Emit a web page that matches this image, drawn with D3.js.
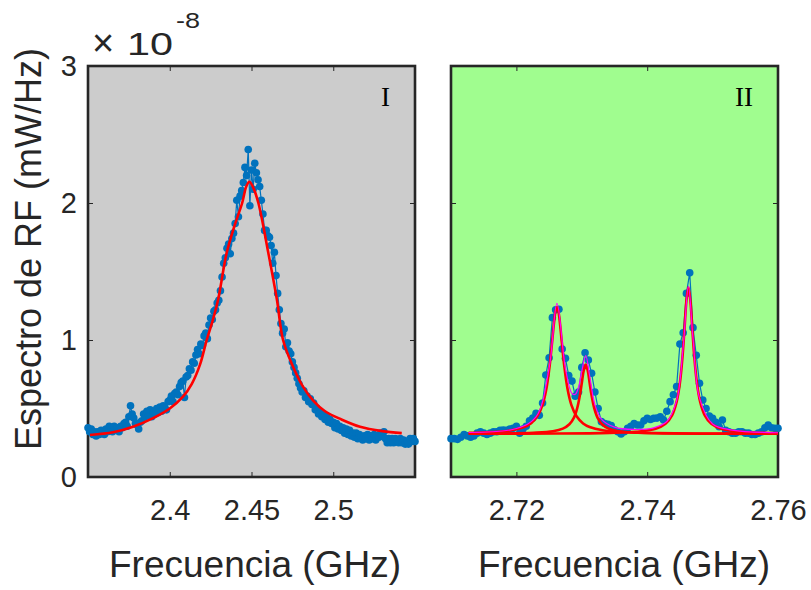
<!DOCTYPE html>
<html><head><meta charset="utf-8">
<script src="https://cdn.jsdelivr.net/npm/d3@7"></script>
<style>body{margin:0;background:#fff}svg{display:block}</style>
</head><body>
<script>
// ---------- DATA ----------
// Panel I: measured spectrum (uniform frequency grid, GHz)
const freqStartI = 2.35, freqStepI = 0.001;
const specI = [
0.36,0.33,0.35,0.31,0.33,0.30,0.33,0.31,0.34,0.32,0.31,0.35,0.33,0.37,0.34,0.33,0.37,0.35,0.36,0.33,0.37,
0.36,0.39,0.40,0.37,0.44,0.52,0.46,0.43,0.39,0.38,0.35,0.40,0.41,0.46,0.44,0.48,0.45,0.49,0.44,0.47,
0.46,0.50,0.47,0.51,0.48,0.52,0.50,0.49,0.55,0.56,0.59,0.55,0.61,0.62,0.60,0.66,0.69,0.70,0.58,0.73,
0.74,0.79,0.78,0.84,0.83,0.89,0.93,0.90,0.97,0.96,1.03,1.05,1.01,1.11,1.16,1.15,1.21,1.22,1.27,1.29,
1.36,1.46,1.56,1.60,1.67,1.70,1.63,1.74,1.78,1.85,2.02,1.90,2.05,2.09,2.15,2.26,2.20,2.39,
1.98,2.24,2.10,2.29,2.22,2.17,2.12,2.02,1.92,1.80,1.80,1.76,1.75,1.69,1.56,1.64,1.47,
1.34,1.22,1.12,1.05,1.08,0.95,0.98,0.92,0.90,0.84,0.80,0.76,0.72,0.68,0.65,
0.62,0.63,0.58,0.59,0.55,0.57,0.53,0.54,0.49,0.50,0.46,0.47,0.44,0.46,0.42,0.44,0.40,0.42,0.39,0.40,
0.36,0.39,0.35,0.37,0.34,0.36,0.32,0.35,0.31,0.34,0.30,0.32,0.29,0.32,0.28,0.31,0.29,0.27,0.30,0.28,
0.31,0.27,0.30,0.28,0.31,0.27,0.30,0.29,0.32,0.30,0.33,0.28,0.25,0.28,0.25,0.28,0.25,0.28,0.26,0.25,
0.28,0.25,0.27,0.24,0.26,0.24,0.28,0.26,0.28,0.26
];
// Panel I: fitted curve
const fitFreqI = [2.3512,2.3653,2.3775,2.3898,2.400,2.4081,2.4135,2.4185,2.4226,2.4262,2.4295,2.4348,2.4395,2.4443,2.4468,2.4487,2.4508,2.4542,2.4603,2.4656,2.4693,2.4754,2.4815,2.4876,2.4950,2.5050,2.5164,2.5300,2.5419];
const fitI = [0.307,0.326,0.367,0.43,0.50,0.586,0.68,0.82,1.0,1.14,1.29,1.635,1.83,2.0,2.12,2.155,2.12,2.0,1.635,1.29,1.0,0.805,0.66,0.56,0.48,0.42,0.367,0.335,0.32];

// Panel II: measured spectrum
const freqStartII = 2.71, freqStepII = 0.0005;
const specII = [
0.28,0.28,0.275,0.29,0.31,0.30,0.29,0.30,0.32,0.33,
0.32,0.31,0.32,0.33,0.33,0.34,0.343,0.34,0.35,0.355,
0.37,0.32,0.35,0.37,0.41,0.43,0.465,0.45,0.54,0.745,
0.87,1.163,1.22,1.224,0.934,0.866,0.74,0.70,0.59,0.62,
0.80,0.907,0.854,0.757,0.62,0.50,0.404,0.39,0.385,0.375,
0.345,0.33,0.314,0.33,0.355,0.37,0.39,0.38,0.38,0.41,
0.428,0.42,0.428,0.43,0.44,0.416,0.48,0.55,0.60,0.66,
0.97,1.053,1.34,1.49,1.09,0.888,0.684,0.562,0.50,0.445,
0.428,0.40,0.367,0.416,0.34,0.33,0.32,0.32,0.33,0.33,
0.32,0.32,0.31,0.31,0.32,0.33,0.36,0.38,0.36,0.355,
0.355
];
// Panel II: individual peak fits
const fitFreqP1 = [2.7127,2.7162,2.7192,2.7212,2.7222,2.7232,2.724,2.7246,2.7251,2.7255,2.7258,2.726,2.7262,2.7264,2.7266,2.7269,2.7273,2.7278,2.7284,2.7292,2.7302,2.7312,2.7332,2.7362,2.7412,2.7512,2.76];
const fitP1 = [0.322,0.328,0.341,0.365,0.391,0.443,0.527,0.648,0.818,1.005,1.148,1.215,1.24,1.215,1.148,1.005,0.818,0.648,0.527,0.443,0.391,0.365,0.341,0.328,0.321,0.317,0.316];
const fitFreqP2 = [2.7127,2.7186,2.7226,2.7256,2.7271,2.7281,2.7288,2.7293,2.7297,2.73,2.7303,2.7306,2.7309,2.7312,2.7315,2.7319,2.7324,2.7331,2.7341,2.7356,2.7386,2.7426,2.7506,2.76];
const fitP2 = [0.317,0.318,0.323,0.334,0.353,0.385,0.434,0.503,0.594,0.686,0.778,0.82,0.778,0.686,0.594,0.503,0.434,0.385,0.353,0.334,0.323,0.318,0.316,0.316];
const fitFreqP3 = [2.7127,2.7263,2.7343,2.7383,2.7413,2.7428,2.7438,2.7445,2.745,2.7454,2.7457,2.746,2.7463,2.7466,2.7469,2.7472,2.7476,2.7481,2.7488,2.7498,2.7513,2.7543,2.76];
const fitP3 = [0.316,0.317,0.322,0.330,0.352,0.388,0.450,0.548,0.687,0.879,1.08,1.288,1.385,1.288,1.08,0.879,0.687,0.548,0.450,0.388,0.352,0.330,0.320];
// Panel II: total fit
const fitFreqSum = [2.7127,2.72,2.723,2.725,2.7262,2.7275,2.7285,2.729,2.7295,2.73,2.7306,2.7312,2.732,2.733,2.735,2.738,2.741,2.743,2.7445,2.7455,2.7463,2.747,2.748,2.75,2.753,2.76];
const fitSum = [0.325,0.354,0.439,0.795,1.267,0.791,0.609,0.604,0.655,0.773,0.887,0.739,0.528,0.423,0.364,0.347,0.359,0.405,0.558,0.95,1.391,1.014,0.576,0.387,0.342,0.323];

const ticksI = [2.4, 2.45, 2.5];
const ticksII = [2.72, 2.74, 2.76];
const ticksY = [0, 1, 2, 3];
const xLabel = "Frecuencia (GHz)";
const yLabel = "Espectro de RF (mW/Hz)";

// ---------- DRAW ----------
const W = 811, H = 590;
const svg = d3.select("body").append("svg").attr("width", W).attr("height", H)
  .style("font-family", "'Liberation Sans', Arial, sans-serif");

const yTop = 66, yBottom = 477;
const y = d3.scaleLinear().domain([0, 3]).range([yBottom, yTop]);

const panels = [
  {x0: 88, x1: 415, domain: [2.35, 2.55], bg: "#cccccc", ticks: ticksI, label: "I", labelCx: 255,
   data: specI.map((v, i) => [freqStartI + i * freqStepI, v]),
   fits: [{xs: fitFreqI, ys: fitI, color: "#ff0000", w: 2.6}]},
  {x0: 451, x1: 778, domain: [2.71, 2.76], bg: "#a0fd8f", ticks: ticksII, label: "II", labelCx: 624,
   data: specII.map((v, i) => [freqStartII + i * freqStepII, v]),
   fits: [{xs: fitFreqP1, ys: fitP1, color: "#ff0000", w: 2.6},
          {xs: fitFreqP2, ys: fitP2, color: "#ff0000", w: 2.6},
          {xs: fitFreqP3, ys: fitP3, color: "#ff0000", w: 2.6},
          {xs: fitFreqSum, ys: fitSum, color: "#ff00ff", w: 1.2}]}
];

panels.forEach((p, pi) => {
  const x = d3.scaleLinear().domain(p.domain).range([p.x0, p.x1]);
  const g = svg.append("g");
  g.append("rect").attr("x", p.x0).attr("y", yTop).attr("width", p.x1 - p.x0).attr("height", yBottom - yTop)
    .attr("fill", p.bg);

  const fmt = d => String(+d.toFixed(3));
  const axB = g.append("g").attr("transform", `translate(0,${yBottom})`)
    .call(d3.axisBottom(x).tickValues(p.ticks).tickSize(-5).tickPadding(22).tickFormat(fmt));
  const axT = g.append("g").attr("transform", `translate(0,${yTop})`)
    .call(d3.axisTop(x).tickValues(p.ticks).tickSize(-5).tickFormat(""));
  const axL = g.append("g").attr("transform", `translate(${p.x0},0)`)
    .call(d3.axisLeft(y).tickValues(ticksY).tickSize(-5).tickPadding(11).tickFormat(pi === 0 ? d3.format("d") : ""));
  const axR = g.append("g").attr("transform", `translate(${p.x1},0)`)
    .call(d3.axisRight(y).tickValues(ticksY).tickSize(-5).tickFormat(""));
  [axB, axT, axL, axR].forEach(a => {
    a.select(".domain").remove();
    a.selectAll(".tick line").attr("stroke", "#262626").attr("stroke-width", 1);
    a.selectAll("text").attr("fill", "#262626").style("font-size", "29px")
      .style("font-family", "'Liberation Sans', Arial, sans-serif");
  });

  g.append("rect").attr("x", p.x0).attr("y", yTop).attr("width", p.x1 - p.x0).attr("height", yBottom - yTop)
    .attr("fill", "none").attr("stroke", "#262626").attr("stroke-width", 2.6);

  // measured data
  g.append("path").datum(p.data)
    .attr("d", d3.line().x(d => x(d[0])).y(d => y(d[1])))
    .attr("fill", "none").attr("stroke", "#0072bd").attr("stroke-width", 1.2);
  g.selectAll("circle.pt").data(p.data).join("circle").attr("class", "pt")
    .attr("cx", d => x(d[0])).attr("cy", d => y(d[1])).attr("r", 3.8).attr("fill", "#0072bd");

  // fits
  p.fits.forEach(f => {
    const pts = f.xs.map((v, i) => [v, f.ys[i]]);
    g.append("path").datum(pts)
      .attr("d", d3.line().curve(d3.curveCatmullRom.alpha(0.5)).x(d => x(d[0])).y(d => y(d[1])))
      .attr("fill", "none").attr("stroke", f.color).attr("stroke-width", f.w)
      .attr("stroke-linejoin", "round");
  });

  // panel label
  g.append("text").attr("x", p.x1 - 25).attr("y", 106).attr("text-anchor", "end")
    .style("font-family", "'Liberation Serif', 'Times New Roman', serif").style("font-size", "27px")
    .attr("fill", "#000").text(p.label);

  // x label
  svg.append("text").attr("x", p.labelCx).attr("y", 577).attr("text-anchor", "middle")
    .style("font-size", "37px").attr("fill", "#262626").text(xLabel);
});

// y label
svg.append("text").attr("transform", "translate(41,249) rotate(-90)").attr("text-anchor", "middle")
  .style("font-size", "36px").attr("fill", "#262626").text(yLabel);

// exponent
svg.append("text").attr("x", 92).attr("y", 56).attr("fill", "#262626").style("font-size", "38px").text("\u00d7");
svg.append("text").attr("x", 127).attr("y", 55).attr("fill", "#262626").style("font-size", "31px")
  .attr("textLength", 46).attr("lengthAdjust", "spacingAndGlyphs").text("10");
svg.append("text").attr("x", 176).attr("y", 28).attr("fill", "#262626").style("font-size", "22px")
  .attr("textLength", 24).attr("lengthAdjust", "spacingAndGlyphs").text("-8");
</script>
</body></html>
